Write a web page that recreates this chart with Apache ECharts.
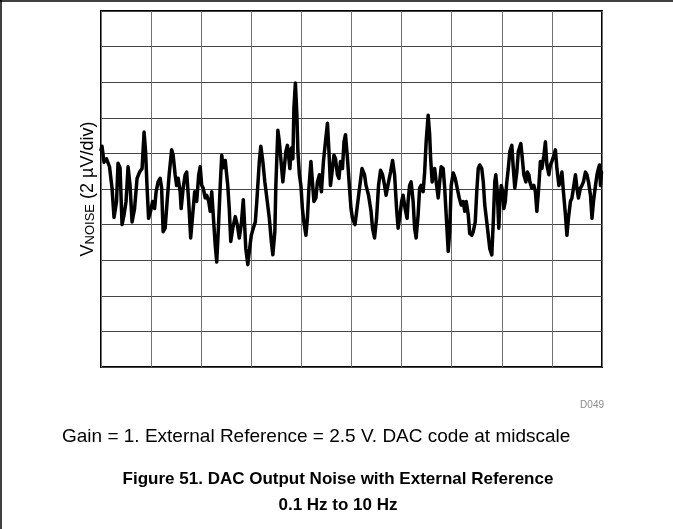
<!DOCTYPE html>
<html>
<head>
<meta charset="utf-8">
<script src="https://cdn.jsdelivr.net/npm/echarts@6/dist/echarts.min.js"></script>
<style>
  html, body { margin: 0; padding: 0; background: #fff; }
  #noiseChart { width: 673px; height: 529px; }
</style>
</head>
<body>
<div id="noiseChart"></div>
<script>
// time axis: 1 s/div, 10 div
var timeSec = [
    0.00, 0.02, 0.06, 0.11, 0.17, 0.22, 0.26, 0.31, 0.34, 0.38, 0.42, 0.46, 0.50, 0.54, 0.58, 0.62, 0.67, 0.72, 0.77, 0.82,
    0.86, 0.89, 0.92, 0.95, 0.99, 1.03, 1.07, 1.10, 1.14, 1.18, 1.21, 1.24, 1.28, 1.32, 1.36, 1.41, 1.44, 1.48, 1.51, 1.54,
    1.58, 1.60, 1.64, 1.68, 1.71, 1.75, 1.79, 1.83, 1.87, 1.91, 1.95, 1.98, 2.01, 2.04, 2.08, 2.11, 2.15, 2.18, 2.21, 2.24,
    2.28, 2.31, 2.34, 2.38, 2.41, 2.44, 2.48, 2.51, 2.53, 2.56, 2.59, 2.63, 2.68, 2.72, 2.76, 2.80, 2.84, 2.87, 2.89, 2.93,
    2.96, 3.00, 3.04, 3.08, 3.11, 3.16, 3.19, 3.23, 3.27, 3.31, 3.36, 3.40, 3.43, 3.47, 3.49, 3.53, 3.56, 3.60, 3.63, 3.67,
    3.69, 3.72, 3.75, 3.77, 3.80, 3.83, 3.85, 3.88, 3.91, 3.93, 3.96, 3.99, 4.02, 4.05, 4.09, 4.12, 4.15, 4.19, 4.22, 4.25,
    4.29, 4.32, 4.36, 4.40, 4.44, 4.48, 4.52, 4.55, 4.58, 4.62, 4.65, 4.68, 4.72, 4.75, 4.78, 4.82, 4.85, 4.88, 4.92, 4.96,
    4.99, 5.02, 5.07, 5.11, 5.16, 5.21, 5.26, 5.29, 5.34, 5.39, 5.42, 5.46, 5.50, 5.54, 5.58, 5.62, 5.66, 5.69, 5.74, 5.78,
    5.82, 5.86, 5.90, 5.93, 5.97, 6.00, 6.03, 6.07, 6.11, 6.13, 6.16, 6.19, 6.23, 6.26, 6.29, 6.33, 6.36, 6.39, 6.43, 6.46,
    6.49, 6.53, 6.56, 6.58, 6.61, 6.63, 6.66, 6.69, 6.73, 6.76, 6.79, 6.83, 6.86, 6.89, 6.93, 6.96, 6.99, 7.03, 7.07, 7.11,
    7.15, 7.19, 7.23, 7.26, 7.29, 7.33, 7.36, 7.40, 7.43, 7.47, 7.50, 7.53, 7.56, 7.60, 7.63, 7.66, 7.70, 7.73, 7.76, 7.80,
    7.83, 7.86, 7.88, 7.91, 7.94, 7.96, 7.99, 8.02, 8.04, 8.07, 8.10, 8.13, 8.16, 8.20, 8.23, 8.26, 8.30, 8.33, 8.38, 8.41,
    8.44, 8.48, 8.51, 8.54, 8.56, 8.60, 8.64, 8.67, 8.70, 8.74, 8.77, 8.80, 8.84, 8.87, 8.90, 8.94, 8.97, 9.00, 9.04, 9.07,
    9.10, 9.14, 9.17, 9.20, 9.23, 9.27, 9.30, 9.33, 9.37, 9.40, 9.43, 9.47, 9.50, 9.53, 9.57, 9.60, 9.63, 9.67, 9.70, 9.73,
    9.77, 9.80, 9.83, 9.87, 9.90, 9.93, 9.95, 9.97, 9.99
];
// output noise in uV (2 uV/div, centre = 0)
var noiseUv = [
    2.2, 2.4, 1.5, 1.7, 1.25, 0.05, -1.6, -0.7, 1.45, 1.2, -2.0, -1.45, -0.7, 1.25, 0.2, -1.85, -1.1, 0.6, 0.95, 1.15,
    3.2, 2.1, 0.05, -1.65, -1.25, -0.7, -1.1, -0.15, 0.4, 0.6, 0.05, -2.4, -2.2, -0.7, 0.8, 2.2, 1.9, 0.8, 0.2, 0.6,
    -0.15, -1.1, 0.05, 0.8, 0.95, -0.7, -2.75, -1.45, -0.15, -0.7, 0.8, 1.25, 0.2, 0.05, -0.5, -0.35, -0.7, -1.25, -0.15, -1.45,
    -3.15, -4.1, -2.4, 0.2, 1.9, 1.2, 1.6, 1.7, 0.2, -1.1, -2.95, -2.2, -1.55, -2.0, -2.75, -2.0, -0.6, -2.2, -3.35, -4.25,
    -3.5, -2.6, -2.2, -1.85, -0.7, 1.55, 2.4, 1.55, 0.4, -0.5, -1.65, -2.95, -3.7, -2.4, 0.2, 3.3, 2.65, 1.35, 0.4, 1.55,
    2.1, 2.45, 1.7, 1.15, 2.3, 1.7, 4.5, 5.95, 4.15, 2.1, 0.8, 0.2, -1.1, -1.85, -2.6, -1.65, 0.05, 1.55, 0.4, -0.7,
    -0.5, 0.4, 0.8, -0.15, 1.55, 2.65, 3.7, 2.1, 0.2, 1.15, 1.9, 1.7, 0.8, 0.6, 1.55, 1.15, 2.65, 3.05, 1.7, 0.05,
    -1.1, -1.65, -2.0, -1.1, 0.05, 1.15, 0.8, 0.2, -0.35, -1.25, -2.2, -2.75, -1.65, 0.2, 1.05, 0.8, 0.2, -0.35, 0.4, 0.95,
    1.6, 0.8, -1.1, -2.2, -1.45, -0.7, -0.35, -1.1, -1.65, -0.7, 0.2, 0.4, -0.7, -2.2, -2.75, -1.45, 0.05, 0.2, -0.15, 0.95,
    2.65, 4.15, 3.05, 1.7, 0.4, 0.95, 1.15, 0.4, -0.5, 0.4, 1.25, 1.15, 0.05, -1.45, -3.5, -2.4, 0.2, 0.9, 0.6, 0.05,
    -0.5, -0.9, -0.7, -1.25, -0.7, -1.45, -2.5, -2.6, -2.4, -1.85, -0.15, 1.15, 1.35, 1.15, 0.4, -0.9, -1.85, -2.6, -3.35, -3.7,
    -1.85, 0.4, 0.8, -0.15, -2.2, -0.7, 0.2, -0.15, -1.1, -0.7, 0.4, 1.15, 2.1, 2.45, 1.15, 0.05, 0.95, 2.1, 2.55, 1.7,
    0.8, 0.4, 0.95, 0.8, 0.4, 0.05, 0.2, -0.15, -1.25, 0.2, 1.55, 1.15, 1.9, 2.65, 1.35, 0.8, 1.35, 1.55, 1.9, 2.2,
    1.15, 0.2, 0.4, 0.95, -0.15, -1.45, -2.6, -1.65, -0.7, -0.5, 0.05, 0.8, 0.05, -0.5, 0.05, 0.2, 0.4, 0.95, 0.8, 0.4,
    -0.35, -1.65, -0.7, 0.2, 0.8, 1.15, 1.35, 0.2, 0.95
];
var xTicks = [0, 10, 1];     // min, max, interval (s)
var yTicks = [-10, 10, 2];   // min, max, interval (uV)

var seriesData = [];
for (var i = 0; i < timeSec.length; i++) {
    seriesData.push([timeSec[i], noiseUv[i]]);
}

var font = 'Liberation Sans, Arial, sans-serif';
var myChart = echarts.init(document.getElementById('noiseChart'));
myChart.setOption({
    animation: false,
    backgroundColor: '#fff',
    textStyle: { fontFamily: font },
    grid: {
        left: 101, top: 11, width: 501, height: 356,
        show: true, borderColor: '#000', borderWidth: 2, backgroundColor: 'transparent'
    },
    xAxis: {
        type: 'value',
        min: xTicks[0], max: xTicks[1], interval: xTicks[2],
        axisLine: { show: false },
        axisTick: { show: false },
        axisLabel: { show: false },
        splitLine: { show: true, lineStyle: { color: '#707070', width: 1 } }
    },
    yAxis: {
        type: 'value',
        min: yTicks[0], max: yTicks[1], interval: yTicks[2],
        axisLine: { show: false },
        axisTick: { show: false },
        axisLabel: { show: false },
        splitLine: { show: true, lineStyle: { color: '#444', width: 1 } },
        name: '{v|V}{s|NOISE}{v| (2 \u00b5V/div)}',
        nameLocation: 'middle',
        nameRotate: 90,
        nameGap: 4,
        nameTextStyle: {
            rich: {
                v: { fontSize: 18, color: '#000', fontFamily: font },
                s: { fontSize: 13, color: '#000', fontFamily: font, padding: [5, 0, 0, 0] }
            }
        }
    },
    series: [{
        type: 'line',
        data: seriesData,
        showSymbol: false,
        smooth: false,
        lineStyle: { color: '#000', width: 3.5, join: 'round', cap: 'round' }
    }],
    graphic: [
        { type: 'line', shape: { x1: 0, y1: 1, x2: 673, y2: 1 }, style: { stroke: '#000', lineWidth: 1.5 } },
        { type: 'line', shape: { x1: 1, y1: 0, x2: 1, y2: 529 }, style: { stroke: '#000', lineWidth: 1.5 } },
        { type: 'text', x: 604, y: 405, style: { text: 'D049', fill: '#8c8c8c', font: '10px ' + font, textAlign: 'right', textVerticalAlign: 'middle' } },
        { type: 'text', x: 62, y: 437, style: { text: 'Gain = 1. External Reference = 2.5 V. DAC code at midscale', fill: '#000', font: '19px ' + font, textAlign: 'left', textVerticalAlign: 'middle' } },
        { type: 'text', x: 338, y: 479, style: { text: 'Figure 51. DAC Output Noise with External Reference', fill: '#000', font: 'bold 17px ' + font, textAlign: 'center', textVerticalAlign: 'middle' } },
        { type: 'text', x: 338, y: 505, style: { text: '0.1 Hz to 10 Hz', fill: '#000', font: 'bold 17px ' + font, textAlign: 'center', textVerticalAlign: 'middle' } }
    ]
});
</script>
</body>
</html>
